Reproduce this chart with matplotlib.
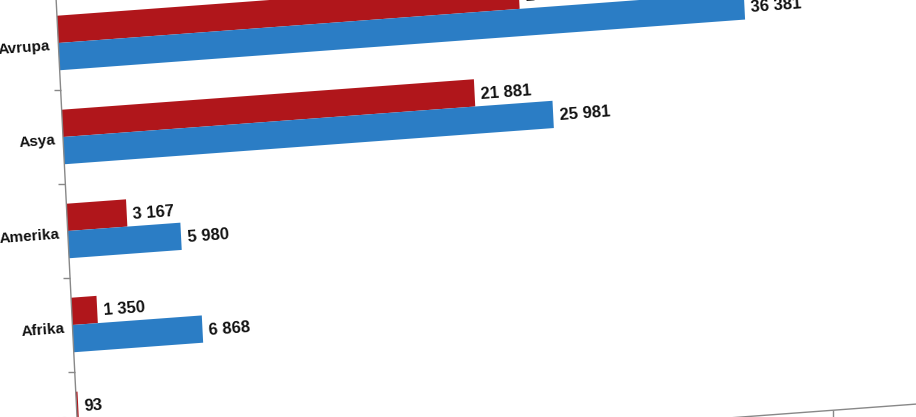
import numpy as np
import matplotlib
matplotlib.use("Agg")
import matplotlib.pyplot as plt
from matplotlib.transforms import Affine2D

# data (bottom values partly cut off)
categories = ["Avrupa", "Asya", "Amerika", "Afrika", "Okyanusya"]
red_values = [24487, 21881, 3167, 1350, 93]
blue_values = [36381, 25981, 5980, 6868, 740]
x_ticks = [0, 5000, 10000, 15000, 20000, 25000, 30000, 35000, 40000, 45000]

RED = "#b0161b"
BLUE = "#2b7dc5"
W, H = 916, 417


def fmt(v):
    return "{:,}".format(v).replace(",", " ")


def main():
    fig = plt.figure(figsize=(W / 100, H / 100), dpi=100)
    fig.patch.set_facecolor("white")

    # un-tilted axes box in pixels, the whole thing is sheared afterwards
    left, bottom, top = 63, -49, 421
    width = 45000 * 0.01884
    ax = fig.add_axes([left / W, bottom / H, width / W, (top - bottom) / H])
    ax.set_xlim(0, 45000)
    ax.set_ylim(len(categories) - 0.5, -0.5)
    ax.axis("off")

    # the photo is slightly skewed, pivot on the Asya row at the axis
    px, py = 63, 280
    a, b = -0.05, 0.074
    tilt = (Affine2D().translate(-px, -py)
            + Affine2D(np.array([[1, a, 0], [b, 1, 0], [0, 0, 1]]))
            + Affine2D().translate(px, py))
    tr = ax.transData + tilt
    ang = np.degrees(np.arctan(b))

    y = np.arange(len(categories))
    h = 0.29
    reds = ax.barh(y - h / 2, red_values, height=h, color=RED)
    blues = ax.barh(y + h / 2, blue_values, height=h, color=BLUE)
    for p in list(reds) + list(blues):
        p.set_transform(tr)
        p.set_clip_on(False)

    # axes lines and ticks
    ymin, ymax = ax.get_ylim()
    ax.plot([0, 0], [ymin, ymax], color="#888888", lw=1, transform=tr, clip_on=False)
    ax.plot([0, 45000], [ymin, ymin], color="#888888", lw=1, transform=tr, clip_on=False)
    bounds = np.arange(len(categories) + 1) - 0.5
    ax.plot(np.zeros(len(bounds)), bounds, ls="none", marker=0, ms=5,
            color="#888888", transform=tr, clip_on=False)
    ax.plot(x_ticks, [ymin] * len(x_ticks), ls="none", marker=3, ms=5,
            color="#888888", transform=tr, clip_on=False)

    lab_font = ["Liberation Sans", "DejaVu Sans"]
    off = 330
    for i, v in enumerate(red_values):
        ax.text(v + off, i - h / 2 + 0.02, fmt(v), transform=tr, rotation=ang,
                rotation_mode="anchor", ha="left", va="center", fontsize=12,
                fontweight="bold", family=lab_font, color="#111111", clip_on=False)
    for i, v in enumerate(blue_values):
        ax.text(v + off, i + h / 2 + 0.02, fmt(v), transform=tr, rotation=ang,
                rotation_mode="anchor", ha="left", va="center", fontsize=12,
                fontweight="bold", family=lab_font, color="#111111", clip_on=False)

    for i, c in enumerate(categories):
        ax.text(-430, i + 0.03, c, transform=tr, rotation=ang, rotation_mode="anchor",
                ha="right", va="center", fontsize=11, fontweight="bold",
                family=lab_font, color="#111111", clip_on=False)

    fig.savefig("out.png", dpi=100, facecolor="white")


if __name__ == "__main__":
    main()
